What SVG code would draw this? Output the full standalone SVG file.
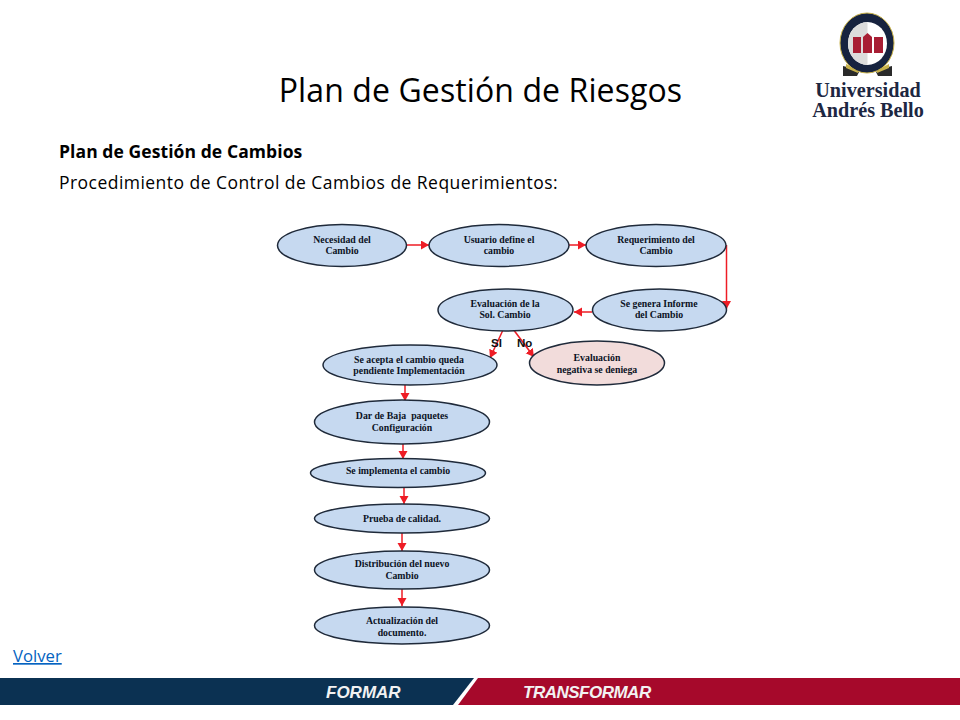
<svg xmlns="http://www.w3.org/2000/svg" width="960" height="720" viewBox="0 0 960 720">
<style>
.n ellipse{fill:#c6d9f0;stroke:#1f2a3a;stroke-width:1.5}
.n text{font-family:"Liberation Serif",serif;font-weight:bold;font-size:9.8px;fill:#0b1224;text-anchor:middle}
.c line,.c path{stroke:#ee1c25;stroke-width:1.5;fill:none;marker-end:url(#a)}
.s{font-family:"Open Sans","Noto Sans",sans-serif;fill:#000}
.l{font-family:"Liberation Sans",sans-serif;font-weight:bold;font-size:11.5px;fill:#111}
.b{font-family:"Liberation Sans",sans-serif;font-weight:bold;font-style:italic;font-size:17px;fill:#f2f2f2}
.u{font-family:"Liberation Serif",serif;font-weight:bold;font-size:20.2px;fill:#1d2742;text-anchor:middle}
</style>
<defs>
<marker id="a" markerUnits="userSpaceOnUse" markerWidth="10" markerHeight="10" refX="8" refY="4.500" orient="auto"><path d="M0 0L8 4.500L0 9z" fill="#ee1c25"/></marker>
</defs>
<rect width="960" height="720" fill="#fff"/>

<text class="s" x="480.500" y="102" font-size="32" letter-spacing="0.100" text-anchor="middle">Plan de Gestión de Riesgos</text>
<text class="s" x="59" y="158" font-size="17.500" letter-spacing="0.080" font-weight="bold">Plan de Gestión de Cambios</text>
<text class="s" x="59" y="189" font-size="17.500" letter-spacing="0.460">Procedimiento de Control de Cambios de Requerimientos:</text>
<text class="s" x="13" y="662" font-size="16.700" style="fill:#0563c1" text-decoration="underline">Volver</text>

<g id="logo">
<path d="M843 66L851 68L859 72L857 76L843 76zM892 66L884 68L876 72L878 76L892 76z" fill="#2a2a2a"/>
<path d="M846 64L858 70V73L846 68zM889 64L877 70V73L889 68z" fill="#c9b24a"/>
<ellipse cx="867" cy="43" rx="27" ry="30" fill="#17233f" stroke="#c9b24a" stroke-width="1"/>
<ellipse cx="867.500" cy="43.500" rx="19.500" ry="21.500" fill="#fff"/>
<path d="M867.500 22A19.500 21.500 0 0 0 867.500 65z" fill="#dcdcdc"/>
<path d="M853 37H861V53H853zM863 37L867.500 33L872 37V53H863zM874 37H883V53H874z" fill="#a81e34"/>
<text class="u" x="868" y="97">Universidad</text>
<text class="u" x="868" y="117">Andrés Bello</text>
</g>

<g id="connectors" class="c">
<line x1="407" y1="245" x2="429" y2="245"/>
<line x1="569" y1="245" x2="586" y2="245"/>
<path d="M726.500 245L726.500 309"/>
<line x1="592" y1="312" x2="574" y2="312"/>
<line x1="503" y1="330" x2="490" y2="358"/>
<line x1="513" y1="329" x2="534" y2="357"/>
<line x1="405" y1="385" x2="405" y2="401"/>
<line x1="403" y1="444" x2="403" y2="459"/>
<line x1="404" y1="487" x2="404" y2="504"/>
<line x1="402" y1="533" x2="402" y2="551"/>
<line x1="402" y1="589" x2="402" y2="606"/>
</g>

<g id="n1" class="n"><ellipse cx="342" cy="245.500" rx="64.500" ry="21"/><text x="342" y="243">Necesidad del</text><text x="342" y="254">Cambio</text></g>
<g id="n2" class="n"><ellipse cx="499" cy="245.500" rx="70" ry="21"/><text x="499" y="243">Usuario define el</text><text x="499" y="254">cambio</text></g>
<g id="n3" class="n"><ellipse cx="656" cy="245.500" rx="70" ry="21"/><text x="656" y="243">Requerimiento del</text><text x="656" y="254">Cambio</text></g>
<g id="n4" class="n"><ellipse cx="659.500" cy="310" rx="67" ry="21"/><text x="659" y="307">Se genera Informe</text><text x="659" y="318">del Cambio</text></g>
<g id="n5" class="n"><ellipse cx="505.500" cy="310" rx="67.500" ry="21"/><text x="505" y="307">Evaluación de la</text><text x="505" y="318">Sol. Cambio</text></g>
<g id="n6" class="n"><ellipse cx="410" cy="365" rx="87" ry="20"/><text x="409" y="363">Se acepta el cambio queda</text><text x="409" y="374">pendiente Implementación</text></g>
<g id="n7" class="n"><ellipse cx="597" cy="363" rx="67.500" ry="22" style="fill:#f2dcdb"/><text x="597" y="361">Evaluación</text><text x="597" y="373">negativa se deniega</text></g>
<g id="n8" class="n"><ellipse cx="402" cy="422" rx="87.500" ry="22"/><text x="402" y="419" xml:space="preserve">Dar de Baja  paquetes</text><text x="402" y="431">Configuración</text></g>
<g id="n9" class="n"><ellipse cx="398" cy="473" rx="87.500" ry="14.500"/><text x="398" y="474">Se implementa el cambio</text></g>
<g id="n10" class="n"><ellipse cx="402" cy="518.500" rx="87.500" ry="14.500"/><text x="402" y="522">Prueba de calidad.</text></g>
<g id="n11" class="n"><ellipse cx="402" cy="570" rx="87.500" ry="19"/><text x="402" y="567">Distribución del nuevo</text><text x="402" y="579">Cambio</text></g>
<g id="n12" class="n"><ellipse cx="402" cy="625.500" rx="87.500" ry="18.500"/><text x="402" y="624">Actualización del</text><text x="402" y="636">documento.</text></g>

<text class="l" x="491" y="347">SI</text>
<text class="l" x="517" y="347">No</text>

<g id="band">
<path d="M0 678H474L453 705H0z" fill="#0b3152"/>
<path d="M478 678H960V705H458z" fill="#a6092b"/>
<text class="b" x="326" y="698">FORMAR</text>
<text class="b" x="523" y="698" letter-spacing="-0.500">TRANSFORMAR</text>
</g>
</svg>
